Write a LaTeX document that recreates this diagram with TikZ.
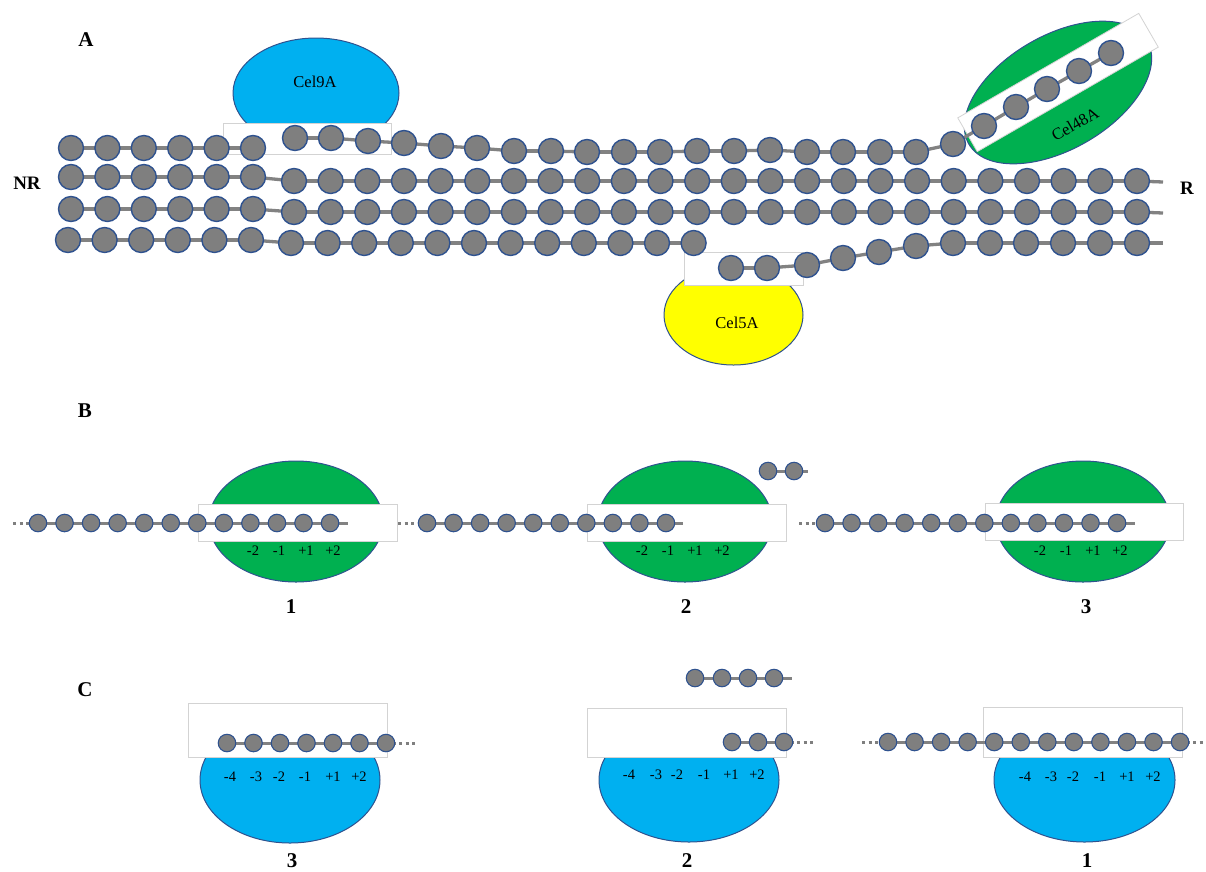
\documentclass[tikz,border=0pt]{standalone}
\usepackage{fontspec}
\setmainfont{Liberation Serif}
\usetikzlibrary{shapes.geometric}
\pgfdeclarelayer{shapes}
\pgfdeclarelayer{links}
\pgfsetlayers{shapes,links,main}

\definecolor{edgeblue}{HTML}{2F528F}
\definecolor{glc}{HTML}{7F7F7F}
\definecolor{bondgray}{HTML}{828282}
\definecolor{cel9}{HTML}{00B0F0}
\definecolor{cel48}{HTML}{00B050}
\definecolor{cel5}{HTML}{FFFF00}
\definecolor{boxline}{HTML}{D3D3D3}

\tikzset{
  glcA/.style={circle, draw=edgeblue, line width=1.4pt, fill=glc, minimum size=25pt, inner sep=0pt},
  glcB/.style={circle, draw=edgeblue, line width=1.1pt, fill=glc, minimum size=17.5pt, inner sep=0pt},
  bondA/.style={draw=bondgray, line width=3.3pt},
  bondB/.style={draw=bondgray, line width=3pt},
  dots/.style={draw=glc, line width=3pt, dash pattern=on 3pt off 3.5pt},
  enzyme/.style={ellipse, draw=edgeblue, line width=1pt, inner sep=0pt},
  cleft/.style={rectangle, draw=boxline, line width=0.8pt, fill=white, inner sep=0pt},
  panel/.style={font=\fontsize{21}{24}\selectfont\bfseries, inner sep=0pt},
  endlbl/.style={font=\fontsize{19}{22}\selectfont\bfseries, inner sep=0pt},
  enzname/.style={font=\fontsize{16.5}{19}\selectfont, inner sep=0pt},
  site/.style={font=\fontsize{14.5}{17}\selectfont, inner sep=0pt},
}

\begin{document}
\begin{tikzpicture}[x=1pt,y=-1pt]
\useasboundingbox (0,0) rectangle (1206,871);

% ---------------- A: crystalline cellulose with three enzymes ----------------
\node[panel] (labA) at (86,40) {A};
\node[endlbl] (labNR) at (27,183) {NR};
\node[endlbl] (labR) at (1187,188) {R};

\begin{pgfonlayer}{shapes}
  \node[enzyme, fill=cel9, minimum width=166pt, minimum height=110pt] (e9) at (316,93) {};
  \node[cleft, minimum width=168pt, minimum height=31pt] (e9cleft) at (307,138.5) {};
  \node[enzyme, fill=cel5, minimum width=139pt, minimum height=100pt] (e5) at (733.5,315) {};
  \node[cleft, minimum width=119pt, minimum height=33pt] (e5cleft) at (743.5,268.5) {};
  \node[enzyme, fill=cel48, minimum width=206pt, minimum height=114pt, rotate=30] (e48) at (1058,92.5) {};
  \node[cleft, minimum width=209pt, minimum height=39pt, rotate=30] (e48cleft) at (1058,82.5) {};
\end{pgfonlayer}
\node[enzname] (t9) at (315,82) {Cel9A};
\node[enzname] (t5) at (737,323) {Cel5A};
\node[enzname, rotate=30] (t48) at (1075,124) {Cel48A};

% row 1: left fragment
\foreach \i [count=\k] in {0,...,5}
  \node[glcA] (ra\k) at ({71+36.4*\i},148) {};
% row 1: chain threaded through Cel9A and Cel48A
\foreach \x/\y [count=\k] in {295/138,331/138,368/141,404/143,441/146,477/148,514/151,551/151,
    587/152,624/152,660/152,697/151,734/151,770/150,807/152,843/152,880/152,916/152,
    953/144,984/126,1016/107,1047/89,1079/71,1111/53}
  \node[glcA] (rb\k) at (\x,\y) {};
% rows 2 and 3
\foreach \i [count=\k] in {0,...,5} {
  \node[glcA] (rc\k) at ({71+36.4*\i},177) {};
  \node[glcA] (rd\k) at ({71+36.4*\i},209) {};
}
\foreach \i [count=\k from 7] in {0,...,23} {
  \node[glcA] (rc\k) at ({294+36.65*\i},181) {};
  \node[glcA] (rd\k) at ({294+36.65*\i},212) {};
}
% row 4: left fragment and chain pulled into Cel5A
\foreach \i [count=\k] in {0,...,5}
  \node[glcA] (re\k) at ({68+36.6*\i},240) {};
\foreach \i [count=\k from 7] in {0,...,11}
  \node[glcA] (re\k) at ({291+36.6*\i},243) {};
\foreach \x/\y [count=\k] in {731/268,767/268,807/265,843/258,879/252,916/246,953/243,
    990/243,1026/243,1063/243,1100/243,1137/243}
  \node[glcA] (rf\k) at (\x,\y) {};

\coordinate (rcEnd) at (1163,182);
\coordinate (rdEnd) at (1163,213);
\coordinate (rfEnd) at (1163,243);

\begin{pgfonlayer}{links}
  \foreach \k [count=\j from 2] in {1,...,5} \draw[bondA] (ra\k.center) -- (ra\j.center);
  \foreach \k [count=\j from 2] in {1,...,23} \draw[bondA] (rb\k.center) -- (rb\j.center);
  \foreach \k [count=\j from 2] in {1,...,29} {
    \draw[bondA] (rc\k.center) -- (rc\j.center);
    \draw[bondA] (rd\k.center) -- (rd\j.center);
  }
  \foreach \k [count=\j from 2] in {1,...,17} \draw[bondA] (re\k.center) -- (re\j.center);
  \foreach \k [count=\j from 2] in {1,...,11} \draw[bondA] (rf\k.center) -- (rf\j.center);
  \draw[bondA] (rc30.center) -- (rcEnd);
  \draw[bondA] (rd30.center) -- (rdEnd);
  \draw[bondA] (rf12.center) -- (rfEnd);
\end{pgfonlayer}

% ---------------- B: processive Cel48A ----------------
\node[panel] (labB) at (85,411) {B};
\begin{pgfonlayer}{shapes}
  \node[enzyme, fill=cel48, minimum width=174pt, minimum height=121pt] (b1e) at (296,521.5) {};
  \node[cleft, minimum width=199pt, minimum height=37pt] (b1c) at (297.5,522.5) {};
  \node[enzyme, fill=cel48, minimum width=174pt, minimum height=121pt] (b2e) at (685,521.5) {};
  \node[cleft, minimum width=199pt, minimum height=37pt] (b2c) at (686.5,522.5) {};
  \node[enzyme, fill=cel48, minimum width=174pt, minimum height=121pt] (b3e) at (1083,521.5) {};
  \node[cleft, minimum width=198pt, minimum height=37pt] (b3c) at (1084,521.5) {};
\end{pgfonlayer}

\foreach \i [count=\k] in {0,...,11} \node[glcB] (ba\k) at ({38+26.55*\i},523) {};
\foreach \i [count=\k] in {0,...,9}  \node[glcB] (bb\k) at ({427+26.55*\i},523) {};
\foreach \i [count=\k] in {0,...,11} \node[glcB] (bc\k) at ({825+26.55*\i},523) {};
\node[glcB] (bd1) at (768,471) {};
\node[glcB] (bd2) at (794,471) {};

\coordinate (baS) at (13,523);  \coordinate (baE) at (348,523);
\coordinate (bbS) at (398,523); \coordinate (bbE) at (683,523);
\coordinate (bcS) at (799,523); \coordinate (bcE) at (1135,523);
\coordinate (bdE) at (808,471);

\begin{pgfonlayer}{links}
  \foreach \k [count=\j from 2] in {1,...,11} {
    \draw[bondB] (ba\k.center) -- (ba\j.center);
    \draw[bondB] (bc\k.center) -- (bc\j.center);
  }
  \foreach \k [count=\j from 2] in {1,...,9} \draw[bondB] (bb\k.center) -- (bb\j.center);
  \draw[dots] (baS) -- (ba1.center);  \draw[bondB] (ba12.center) -- (baE);
  \draw[dots] (bbS) -- (bb1.center);  \draw[bondB] (bb10.center) -- (bbE);
  \draw[dots] (bcS) -- (bc1.center);  \draw[bondB] (bc12.center) -- (bcE);
  \draw[bondB] (bd1.center) -- (bd2.center) -- (bdE);
\end{pgfonlayer}

\foreach \x/\t [count=\k] in {253/-2,279/-1,306/+1,333/+2}
  \node[site] (bap\k) at (\x,551) {\t};
\foreach \x/\t [count=\k] in {642/-2,668/-1,695/+1,722/+2}
  \node[site] (bbp\k) at (\x,551) {\t};
\foreach \x/\t [count=\k] in {1040/-2,1066/-1,1093/+1,1120/+2}
  \node[site] (bcp\k) at (\x,551) {\t};
\node[panel] (bn1) at (291,607) {1};
\node[panel] (bn2) at (686,607) {2};
\node[panel] (bn3) at (1086,607) {3};

% ---------------- C: Cel9A ----------------
\node[panel] (labC) at (85,690) {C};
\begin{pgfonlayer}{shapes}
  \node[enzyme, fill=cel9, minimum width=180pt, minimum height=126pt] (c3e) at (290,780) {};
  \node[cleft, minimum width=199pt, minimum height=54pt] (c3c) at (287.5,730) {};
  \node[enzyme, fill=cel9, minimum width=180pt, minimum height=124pt] (c2e) at (689,780) {};
  \node[cleft, minimum width=199pt, minimum height=49pt] (c2c) at (686.5,732.5) {};
  \node[enzyme, fill=cel9, minimum width=181pt, minimum height=124pt] (c1e) at (1084.5,780) {};
  \node[cleft, minimum width=199pt, minimum height=50pt] (c1c) at (1082.5,732) {};
\end{pgfonlayer}

\foreach \i [count=\k] in {0,...,6}  \node[glcB] (ca\k) at ({227+26.5*\i},743) {};
\foreach \x [count=\k] in {732,758,784} \node[glcB] (cb\k) at (\x,742) {};
\foreach \x [count=\k] in {695,722,748,774} \node[glcB] (cd\k) at (\x,678) {};
\foreach \i [count=\k] in {0,...,11} \node[glcB] (cc\k) at ({888+26.55*\i},742) {};

\coordinate (caE) at (415,743);
\coordinate (cbE) at (815,742);
\coordinate (cdE) at (792,678);
\coordinate (ccS) at (862,742); \coordinate (ccE) at (1203,742);

\begin{pgfonlayer}{links}
  \foreach \k [count=\j from 2] in {1,...,6} \draw[bondB] (ca\k.center) -- (ca\j.center);
  \foreach \k [count=\j from 2] in {1,2} \draw[bondB] (cb\k.center) -- (cb\j.center);
  \foreach \k [count=\j from 2] in {1,2,3} \draw[bondB] (cd\k.center) -- (cd\j.center);
  \foreach \k [count=\j from 2] in {1,...,11} \draw[bondB] (cc\k.center) -- (cc\j.center);
  \draw[dots] (ca7.center) -- (caE);
  \draw[dots] (cb3.center) -- (cbE);
  \draw[bondB] (cd4.center) -- (cdE);
  \draw[dots] (ccS) -- (cc1.center);
  \draw[dots] (cc12.center) -- (ccE);
\end{pgfonlayer}

\foreach \x/\t [count=\k] in {230/-4,256/-3,279/-2,305/-1,333/+1,359/+2}
  \node[site] (cap\k) at (\x,777) {\t};
\foreach \x/\t [count=\k] in {629/-4,656/-3,677/-2,704/-1,731/+1,757/+2}
  \node[site] (cbp\k) at (\x,775) {\t};
\foreach \x/\t [count=\k] in {1025/-4,1051/-3,1073/-2,1100/-1,1127/+1,1153/+2}
  \node[site] (ccp\k) at (\x,777) {\t};
\node[panel] (cn3) at (292,861) {3};
\node[panel] (cn2) at (687,861) {2};
\node[panel] (cn1) at (1087,861) {1};

\end{tikzpicture}
\end{document}
